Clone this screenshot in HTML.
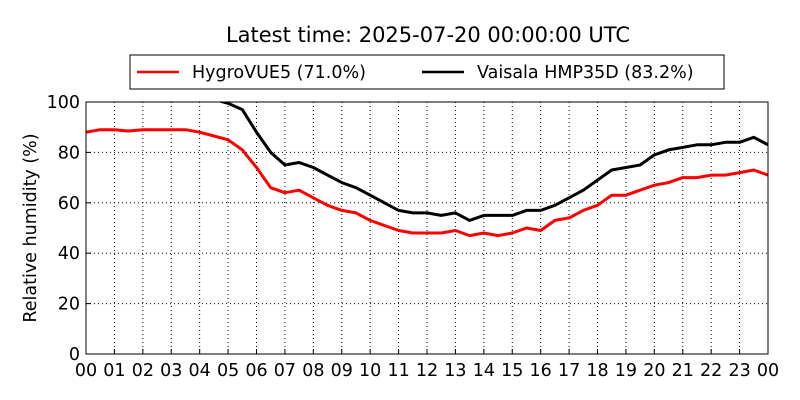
<!DOCTYPE html>
<html><head><meta charset="utf-8"><style>
body{margin:0;background:#fff;}
svg{display:block;font-family:"DejaVu Sans","Liberation Sans",sans-serif;}
</style></head><body>
<svg id="chart" width="800" height="400">
<rect width="800" height="400" fill="#fff"/>
<text x="428" y="42" font-size="21" text-anchor="middle">Latest time: 2025-07-20 00:00:00 UTC</text>
<g>
<rect x="130" y="55" width="594" height="34" fill="#fff" stroke="#000" stroke-width="1"/>
<g>
<line x1="137" y1="72" x2="179" y2="72" stroke="#f00" stroke-width="2.5"/>
<text x="192" y="78" font-size="17.5">HygroVUE5 (71.0%)</text></g>
<g>
<line x1="422" y1="72" x2="464" y2="72" stroke="#000" stroke-width="2.5"/>
<text x="477" y="78" font-size="17.5">Vaisala HMP35D (83.2%)</text></g>
</g>
<text transform="translate(36,228) rotate(-90)" font-size="17.5" text-anchor="middle">Relative humidity (%)</text>
<g id="grid"></g>
<defs><clipPath id="pc"><rect x="86" y="102" width="682" height="252"/></clipPath></defs>
<g id="series" clip-path="url(#pc)"></g>
<rect x="86" y="102" width="682" height="252" fill="none" stroke="#000" stroke-width="1"/>
<g id="ticks"></g>
</svg>
<script>
const hours=[0,0.5,1,1.5,2,2.5,3,3.5,4,4.5,5,5.5,6,6.5,7,7.5,8,8.5,9,9.5,10,10.5,11,11.5,12,12.5,13,13.5,14,14.5,15,15.5,16,16.5,17,17.5,18,18.5,19,19.5,20,20.5,21,21.5,22,22.5,23,23.5,24];
const hygro=[88,89,89,88.5,89,89,89,89,88,86.5,85,81,74,66,64,65,62,59,57,56,53,51,49,48,48,48,49,47,48,47,48,50,49,53,54,57,59,63,63,65,67,68,70,70,71,71,72,73,71];
const vaisala=[null,null,null,null,null,null,null,null,null,101,99.5,97,88,80,75,76,74,71,68,66,63,60,57,56,56,55,56,53,55,55,55,57,57,59,62,65,69,73,74,75,79,81,82,83,83,84,84,86,83];
const xTickLabels=["00","01","02","03","04","05","06","07","08","09","10","11","12","13","14","15","16","17","18","19","20","21","22","23","00"];
const yTicks=[0,20,40,60,80,100];
const X0=86,X1=768,Y0=354,Y1=102;
const xs=h=>X0+(X1-X0)*h/24, ys=v=>Y0-(Y0-Y1)*v/100;
const NS="http://www.w3.org/2000/svg";
const grid=document.getElementById('grid'),ticks=document.getElementById('ticks'),series=document.getElementById('series');
function mk(tag,at,parent){const e=document.createElementNS(NS,tag);for(const k in at)e.setAttribute(k,at[k]);parent.appendChild(e);return e;}
xTickLabels.forEach((lab,i)=>{const x=xs(i);
 if(i>0&&i<24){const g=mk('line',{x1:x,x2:x,y1:Y1,y2:Y0,stroke:'#000','stroke-dasharray':'1,3','stroke-width':1},grid);
 
 }
 const t1=mk('line',{x1:x,x2:x,y1:Y0,y2:Y0-5,stroke:'#000'},ticks);
 
 
 const t=mk('text',{x:x,y:376,'font-size':17.5,'text-anchor':'middle'},ticks);t.textContent=lab;
 
 });
yTicks.forEach(v=>{const y=ys(v);
 if(v>0&&v<100){const g=mk('line',{x1:X0,x2:X1,y1:y,y2:y,stroke:'#000','stroke-dasharray':'1,3','stroke-width':1},grid);
 
 }
 const tk=mk('line',{x1:X0,x2:X0+5,y1:y,y2:y,stroke:'#000'},ticks);
 
 
 const t=mk('text',{x:80,y:y+6,'font-size':17.5,'text-anchor':'end'},ticks);t.textContent=v;
 
 });
function line(vals,color,name){let d='';vals.forEach((v,i)=>{if(v==null)return;d+=(d?'L':'M')+xs(hours[i]).toFixed(1)+','+ys(v).toFixed(1);});
 const p=mk('path',{d:d,fill:'none',stroke:color,'stroke-width':3,'stroke-linejoin':'round'},series);
 
 }
line(hygro,'#f00','hygrovue5-line');
line(vaisala,'#000','vaisala-line');
</script>
</body></html>
